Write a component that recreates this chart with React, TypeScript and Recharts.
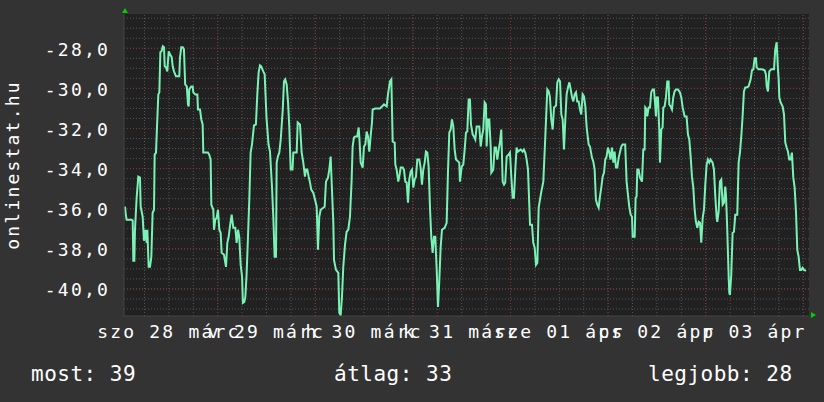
import React from 'react'
import {
  CartesianGrid,
  Line,
  LineChart,
  ReferenceLine,
  XAxis,
  YAxis,
} from 'recharts'

// hours since midnight, 28 March
const hours = [
  1.2, 1.4, 1.6, 2.85, 3.1, 3.25, 3.5, 3.66, 4.07, 4.48, 4.89, 5.06, 5.55, 5.88, 6.2, 6.53, 6.7, 7.02, 7.35, 7.68,
  8.0, 8.34, 8.5, 8.83, 9.0, 9.4, 9.65, 9.9, 10.2, 10.5, 10.8, 10.97, 11.3, 11.6, 11.95, 12.27, 12.7, 12.93, 13.25, 13.74,
  14.3, 14.56, 14.73, 15.05, 15.4, 15.7, 16.0, 16.4, 16.7, 16.87, 17.0, 17.5, 17.85, 18.0, 18.5, 19.0, 19.15, 19.65, 19.97, 20.3,
  20.46, 21.6, 21.9, 22.27, 22.43, 22.92, 23.1, 23.4, 23.75, 24.07, 24.4, 24.73, 24.97, 25.55, 26.04, 26.37, 26.7, 27.0, 27.44, 27.84,
  28.33, 28.66, 29.0, 29.3, 29.65, 30.0, 30.2, 30.55, 30.8, 31.1, 31.45, 31.77, 32.1, 32.43, 32.92, 33.4, 33.74, 34.07, 34.4, 34.7,
  35.2, 35.55, 36.0, 36.5, 36.86, 37.35, 37.67, 38.0, 38.33, 38.5, 38.8, 39.15, 39.5, 40.0, 40.3, 40.6, 40.96, 41.3, 41.6, 41.95,
  42.4, 42.6, 43.42, 43.67, 44.23, 44.65, 45.05, 45.46, 45.7, 46.03, 46.37, 46.7, 47.0, 47.5, 48.0, 48.34, 48.66, 48.98, 49.32, 49.97,
  50.3, 50.63, 51.12, 51.44, 51.78, 52.1, 52.43, 52.6, 53.09, 53.66, 53.9, 54.24, 54.56, 54.88, 55.3, 55.7, 56.1, 56.53, 56.94, 57.18,
  57.5, 57.83, 58.32, 58.66, 58.82, 59.16, 59.65, 59.97, 60.3, 60.63, 60.95, 61.28, 61.6, 61.94, 62.1, 62.75, 63.9, 64.4, 64.9, 65.55,
  65.87, 66.36, 66.7, 67.03, 67.52, 67.68, 68.0, 68.4, 68.65, 69.0, 69.5, 69.8, 70.13, 70.47, 70.8, 71.1, 71.45, 71.77, 72.1, 72.43,
  72.76, 73.08, 73.57, 73.9, 74.23, 74.55, 74.9, 75.2, 75.54, 75.87, 76.2, 76.52, 76.85, 77.18, 77.5, 77.85, 78.17, 78.5, 78.83, 79.15,
  79.8, 80.3, 80.62, 80.95, 81.3, 81.6, 81.93, 82.27, 82.6, 83.4, 83.57, 84.0, 84.39, 84.73, 85.05, 85.38, 85.71, 86.03, 86.28, 86.7,
  87.02, 87.35, 87.68, 88.33, 88.67, 88.98, 89.31, 89.64, 89.97, 90.13, 90.46, 90.78, 91.13, 91.28, 91.76, 92.1, 92.43, 92.75, 93.09, 93.4,
  93.73, 94.07, 94.4, 94.7, 95.06, 95.55, 95.87, 96.2, 96.53, 96.85, 97.18, 97.5, 97.84, 98.5, 99.0, 99.3, 99.63, 99.97, 100.3, 100.8,
  101.28, 101.6, 101.95, 102.27, 102.6, 102.93, 103.25, 103.58, 104.07, 104.56, 105.05, 105.4, 105.7, 106.03, 106.37, 106.7, 107.2, 107.5, 107.85, 108.18,
  108.5, 108.83, 109.15, 109.48, 109.8, 110.14, 110.47, 110.8, 111.1, 111.45, 111.78, 112.1, 112.4, 112.76, 113.08, 113.4, 113.74, 114.06, 114.4, 114.73,
  115.22, 115.54, 116.03, 116.36, 116.69, 117.0, 117.34, 117.67, 118.0, 118.32, 118.66, 119.0, 119.3, 119.63, 119.96, 120.3, 120.6, 120.96, 121.3, 121.6,
  121.93, 122.26, 122.6, 122.9, 123.24, 123.57, 124.2, 124.55, 124.88, 125.2, 125.55, 125.88, 126.04, 126.53, 126.77, 127.0, 127.18, 127.5, 127.84, 128.33,
  128.65, 128.98, 129.14, 129.47, 129.63, 129.97, 130.3, 130.6, 130.95, 131.28, 131.6, 131.77, 131.94, 132.26, 132.58, 132.75, 133.08, 133.4, 133.57, 133.9,
  134.23, 134.55, 134.88, 135.04, 135.37, 135.7, 136.02, 136.35, 136.68, 137.17, 137.67, 138.0, 138.33, 138.82, 139.3, 139.64, 139.96, 140.3, 140.62, 140.95,
  141.28, 141.6, 141.93, 142.27, 142.6, 142.9, 143.26, 143.57, 143.9, 144.23, 144.55, 144.88, 145.2, 145.7, 146.03, 146.36, 146.68, 146.84, 147.18, 147.5,
  147.83, 148.16, 148.5, 148.8, 148.98, 149.15, 149.3, 149.65, 149.8, 149.96, 150.28, 150.62, 150.95, 151.27, 151.76, 152.1, 152.42, 152.75, 153.07, 153.4,
  153.72, 154.06, 154.55, 155.05, 155.37, 155.7, 156.03, 156.36, 156.52, 157.0, 157.83, 158.5, 158.8, 159.0, 159.3, 159.64, 160.13, 160.8, 161.1, 161.45,
  161.77, 161.94, 162.1, 162.43, 162.92, 163.25, 163.57, 163.9, 164.22, 164.55, 164.9, 165.2, 165.54, 165.87, 166.2, 166.52, 166.85, 167.18, 167.5, 167.84,
  168.17, 168.66,
]

const values = [
  -35.9, -36.3, -36.55, -36.55, -36.6, -38.6, -38.6, -37.05, -35.45, -34.4, -34.45, -35.9, -36.4, -37.6, -37.05, -37.7, -37.05, -38.9, -38.9, -38.4,
  -36.2, -36.05, -33.3, -33.2, -32.3, -30.3, -30.2, -28.2, -28.15, -27.9, -27.95, -28.9, -28.95, -29.15, -28.15, -28.3, -28.45, -28.9, -29.15, -29.4,
  -29.4, -29.4, -28.45, -27.95, -27.95, -28.05, -29.8, -29.9, -30.8, -30.9, -30.05, -29.9, -29.9, -30.2, -30.3, -30.3, -31.05, -31.05, -31.55, -31.8,
  -33.2, -33.2, -33.3, -33.55, -35.8, -36.05, -37.05, -36.55, -36.45, -36.05, -37.05, -37.2, -38.2, -38.3, -38.9, -37.7, -37.4, -36.9, -36.3, -36.95,
  -36.95, -37.7, -37.05, -37.4, -38.8, -39.4, -40.7, -40.65, -40.4, -39.3, -37.4, -35.55, -33.2, -32.8, -31.85, -31.8, -30.3, -29.2, -28.85, -28.9,
  -29.15, -29.3, -31.45, -32.8, -33.15, -34.9, -36.4, -38.4, -38.4, -33.7, -33.4, -33.2, -32.55, -31.05, -29.65, -29.55, -29.8, -30.7, -31.9, -34.05,
  -34.05, -33.2, -33.2, -31.7, -31.8, -33.2, -33.7, -34.4, -34.05, -34.05, -34.4, -34.7, -35.05, -35.2, -35.6, -35.9, -38.05, -36.4, -36.05, -35.95,
  -35.9, -34.65, -34.45, -34.05, -33.4, -35.05, -36.7, -38.55, -39.05, -39.2, -41.2, -41.3, -40.4, -38.9, -37.8, -37.15, -37.05, -36.4, -34.55, -32.9,
  -32.45, -32.4, -32.4, -31.95, -32.4, -33.7, -33.95, -32.9, -32.8, -32.15, -32.4, -33.15, -32.4, -31.7, -31.05, -31.0, -31.0, -30.9, -30.8, -30.9,
  -30.3, -29.65, -29.55, -32.65, -32.7, -33.8, -34.05, -34.65, -34.4, -33.95, -33.95, -34.05, -34.65, -34.7, -35.7, -34.55, -34.15, -34.05, -34.95, -34.55,
  -34.4, -33.55, -33.55, -33.95, -34.8, -34.05, -33.7, -33.15, -33.2, -33.9, -35.95, -37.4, -38.2, -37.4, -37.4, -39.05, -40.9, -39.55, -37.9, -37.05,
  -36.95, -36.7, -34.2, -32.2, -32.05, -31.55, -31.9, -33.05, -33.55, -33.7, -34.65, -33.9, -33.8, -33.05, -32.2, -32.15, -30.55, -30.55, -31.8, -32.3,
  -32.4, -32.55, -31.9, -31.9, -32.9, -32.4, -32.05, -30.7, -30.8, -32.9, -31.55, -31.55, -32.9, -34.2, -34.05, -32.95, -32.95, -33.55, -33.05, -32.7,
  -32.05, -34.65, -34.8, -34.7, -33.4, -33.3, -33.2, -34.4, -35.45, -35.45, -34.05, -32.95, -33.15, -33.05, -33.15, -33.05, -33.2, -33.55, -34.05, -36.8,
  -36.8, -37.7, -37.95, -38.8, -38.7, -35.95, -35.55, -35.15, -34.65, -32.4, -30.05, -30.15, -30.45, -31.55, -32.05, -30.95, -30.85, -29.7, -29.55, -29.65,
  -31.3, -31.55, -33.05, -31.55, -30.3, -29.95, -29.7, -30.05, -30.4, -30.65, -30.3, -30.2, -30.65, -30.65, -31.05, -31.3, -30.3, -30.4, -30.9, -31.95,
  -32.8, -32.9, -33.45, -33.65, -34.05, -35.55, -35.8, -35.95, -35.4, -34.95, -34.4, -34.2, -33.55, -33.4, -32.95, -33.2, -33.55, -32.95, -33.7, -33.15,
  -33.95, -33.95, -33.45, -33.2, -32.9, -32.8, -32.8, -34.65, -35.3, -35.9, -36.3, -36.4, -37.4, -37.4, -35.45, -35.4, -34.05, -34.05, -34.45, -34.65,
  -33.05, -33.05, -30.95, -31.05, -31.4, -30.95, -30.95, -30.2, -30.05, -30.05, -30.9, -31.4, -30.45, -30.45, -32.05, -33.7, -32.05, -31.95, -30.95, -30.9,
  -30.45, -29.65, -29.65, -30.8, -30.9, -31.05, -30.45, -30.15, -30.05, -30.05, -30.2, -30.45, -30.95, -31.4, -31.4, -32.3, -32.55, -33.4, -34.4, -34.95,
  -36.05, -36.65, -36.95, -36.65, -36.7, -37.7, -36.45, -36.05, -34.8, -33.8, -33.55, -33.7, -33.55, -33.7, -34.05, -35.4, -36.4, -36.65, -36.15, -34.65,
  -34.55, -35.8, -35.7, -34.9, -35.3, -36.2, -37.05, -39.4, -40.2, -40.3, -39.3, -37.2, -37.15, -36.3, -36.3, -33.7, -33.2, -32.4, -31.4, -30.15,
  -29.95, -29.95, -29.9, -29.55, -29.1, -29.05, -28.5, -28.5, -28.95, -29.05, -29.05, -29.1, -29.3, -29.9, -30.15, -29.15, -29.05, -29.05, -28.05, -27.7,
  -29.05, -29.55, -30.45, -30.7, -30.9, -31.3, -32.7, -32.95, -33.15, -33.55, -33.55, -33.2, -34.45, -34.95, -36.15, -38.05, -38.4, -39.05, -39.05, -38.95,
  -39.05, -39.1,
]

const dayTicks = [12, 36, 60, 84, 108, 132, 156]
const dayLabels = ['szo 28 márc', 'v 29 márc', 'h 30 márc', 'k 31 márc', 'sze 01 ápr', 'cs 02 ápr', 'p 03 ápr']
const yTicks = [-40, -38, -36, -34, -32, -30, -28]

const legendNow = 39
const legendAvg = 33
const legendBest = 28
const axisTitle = 'onlinestat.hu'

const data = hours.map((h, i) => ({ h, v: values[i] }))

const minorY: number[] = []
for (let v = -41; v <= -26.5; v += 0.5) minorY.push(v)
const minorX: number[] = []
for (let h = 6; h <= 168; h += 6) minorX.push(h)
const majorX = [24, 48, 72, 96, 120, 144, 168]

const FONT = '"DejaVu Sans Mono", monospace'

const XTick = (props: any) => {
  const { x, y, payload } = props
  const i = dayTicks.indexOf(payload.value)
  return (
    <text x={x} y={y} dy={12.8} textAnchor="middle" fill="#ffffff" fontFamily={FONT} fontSize={18} letterSpacing={2.2}>
      {dayLabels[i]}
    </text>
  )
}

const YTick = (props: any) => {
  const { x, y, payload } = props
  return (
    <text x={x} y={y} dy={7.5} textAnchor="end" fill="#ffffff" fontFamily={FONT} fontSize={18} letterSpacing={2.2}>
      {payload.value.toFixed(1).replace('.', ',')}
    </text>
  )
}

export default function App() {
  return (
    <div style={{ position: 'absolute', left: 0, top: 0, width: 824, height: 402, background: '#333333' }}>
      <LineChart width={824} height={402} data={data} margin={{ top: 14, right: 15, bottom: 56, left: 0 }}>
        <CartesianGrid fill="#212121" horizontal={false} vertical={false} />
        <XAxis
          type="number"
          dataKey="h"
          domain={[0.96, 169.4]}
          ticks={dayTicks}
          tick={<XTick />}
          tickSize={0}
          tickMargin={9}
          height={30}
          axisLine={{ stroke: '#444444' }}
          allowDataOverflow
        />
        <YAxis
          type="number"
          domain={[-41.35, -26.29]}
          ticks={yTicks}
          tick={<YTick />}
          tickSize={0}
          tickMargin={14}
          width={124}
          axisLine={{ stroke: '#444444' }}
          allowDataOverflow
        />
        {minorY.map(v => (
          <ReferenceLine key={`my${v}`} y={v} stroke="#555555" strokeDasharray="1 2" />
        ))}
        {minorX.map(h => (
          <ReferenceLine key={`mx${h}`} x={h} stroke="#555555" strokeDasharray="1 2" />
        ))}
        {yTicks.map(v => (
          <ReferenceLine key={`My${v}`} y={v} stroke="#7a3a3a" strokeDasharray="1 2" />
        ))}
        {majorX.map(h => (
          <ReferenceLine key={`Mx${h}`} x={h} stroke="#7a3a3a" strokeDasharray="1 2" />
        ))}
        <Line
          type="linear"
          dataKey="v"
          stroke="#7af2b6"
          strokeWidth={2}
          dot={false}
          isAnimationActive={false}
        />
      </LineChart>
      <svg width={824} height={402} style={{ position: 'absolute', left: 0, top: 0, pointerEvents: 'none' }}>
        <polygon points="122,13 128,13 125,8" fill="#00d000" />
        <polygon points="811,312 811,318 816,315" fill="#00d000" />
        <text
          transform="translate(18.5,165) rotate(-90)"
          textAnchor="middle"
          fill="#ffffff"
          fontFamily={FONT}
          fontSize={18}
          letterSpacing={2.2}
        >
          {axisTitle}
        </text>
        <g fill="#ffffff" fontFamily={FONT} fontSize={21} letterSpacing={0.5}>
          <text x={31} y={381}>{`most: ${legendNow}`}</text>
          <text x={334} y={381}>{`átlag: ${legendAvg}`}</text>
          <text x={648} y={381}>{`legjobb: ${legendBest}`}</text>
        </g>
      </svg>
    </div>
  )
}
